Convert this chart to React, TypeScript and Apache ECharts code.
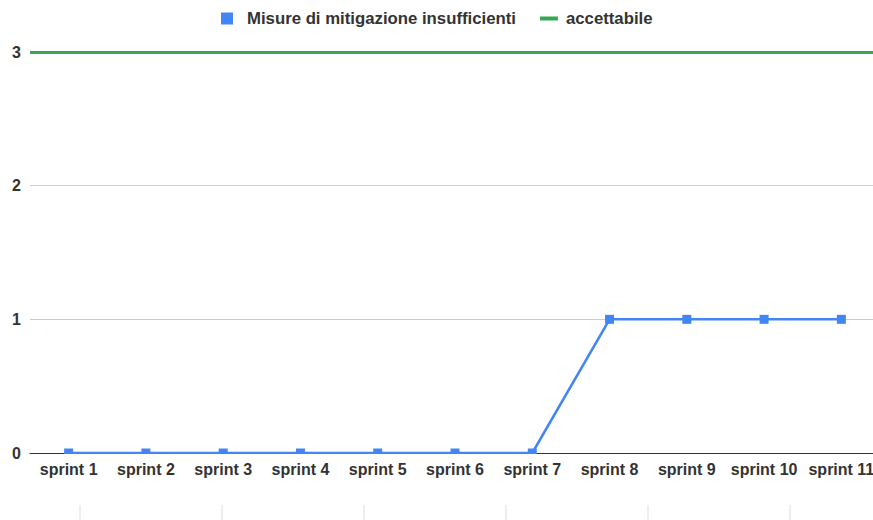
import React, { useEffect, useRef } from "react";
import * as echarts from "echarts";

const categories = [
  "sprint 1", "sprint 2", "sprint 3", "sprint 4", "sprint 5", "sprint 6",
  "sprint 7", "sprint 8", "sprint 9", "sprint 10", "sprint 11",
];
const misureValues = [0, 0, 0, 0, 0, 0, 0, 1, 1, 1, 1];
const accettabileLevel = 3;
const yTicks = { min: 0, max: 3, interval: 1 };
const seriesNames = ["Misure di mitigazione insufficienti", "accettabile"];

const FONT = "'Liberation Sans', Arial, sans-serif";

export default function App() {
  const ref = useRef<HTMLDivElement>(null);
  useEffect(() => {
    if (!ref.current) return;
    const chart = echarts.init(ref.current, undefined, { renderer: "svg" });
    const decoLinesX = [80, 222, 364, 506, 648, 790];
    chart.setOption({
      animation: false,
      backgroundColor: "#ffffff",
      textStyle: { fontFamily: FONT },
      legend: {
        left: 221,
        top: 10,
        padding: 0,
        itemWidth: 21,
        itemHeight: 12,
        itemGap: 24,
        itemStyle: { borderWidth: 0 },
        textStyle: { fontFamily: FONT, fontSize: 16.75, fontWeight: "bold", color: "#333" },
        data: [
          { name: seriesNames[0], icon: "path://M0,0h12v12h-12zM21,12" },
          { name: seriesNames[1], icon: "path://M0,0M0,4h18v4h-18zM21,12" },
        ],
      },
      grid: {
        left: 30,
        top: 52,
        width: 850,
        bottom: 67,
        containLabel: false,
        outerBoundsMode: "none",
      },
      xAxis: {
        type: "category",
        data: categories,
        boundaryGap: true,
        axisLine: { show: true, lineStyle: { color: "#333", width: 1 } },
        axisTick: { show: false },
        axisLabel: {
          margin: 8,
          fontFamily: FONT,
          fontSize: 16,
          fontWeight: "bold",
          color: "#333",
          interval: 0,
        },
        splitLine: { show: false },
      },
      yAxis: {
        type: "value",
        min: yTicks.min,
        max: yTicks.max,
        interval: yTicks.interval,
        axisLine: { show: false },
        axisTick: { show: false },
        axisLabel: {
          margin: 9,
          fontFamily: FONT,
          fontSize: 16,
          fontWeight: "bold",
          color: "#333",
        },
        splitLine: { show: true, lineStyle: { color: "#cccccc", width: 1 } },
      },
      series: [
        {
          name: seriesNames[0],
          type: "line",
          data: misureValues,
          symbol: "rect",
          symbolSize: 9,
          itemStyle: { color: "#4285f4" },
          lineStyle: { color: "#4285f4", width: 2.5 },
          z: 3,
        },
        {
          name: seriesNames[1],
          type: "line",
          data: [],
          symbol: "none",
          itemStyle: { color: "#34a853" },
          lineStyle: { color: "#34a853", width: 3 },
          markLine: {
            silent: true,
            symbol: "none",
            label: { show: false },
            lineStyle: { color: "#34a853", width: 3, type: "solid" },
            data: [{ yAxis: accettabileLevel }],
          },
        },
      ],
      graphic: [
        {
          type: "rect",
          shape: { x: 30, y: 454, width: 850, height: 5 },
          style: { fill: "#ffffff" },
          z: 100,
          silent: true,
        },
        ...decoLinesX.map((x) => ({
          type: "line",
          shape: { x1: x, y1: 505, x2: x, y2: 520 },
          style: { stroke: "#dddddd", lineWidth: 1 },
          silent: true,
        })),
      ],
    });
    return () => chart.dispose();
  }, []);
  return (
    <div
      ref={ref}
      style={{ position: "fixed", left: 0, top: 0, width: 873, height: 520 }}
    />
  );
}
